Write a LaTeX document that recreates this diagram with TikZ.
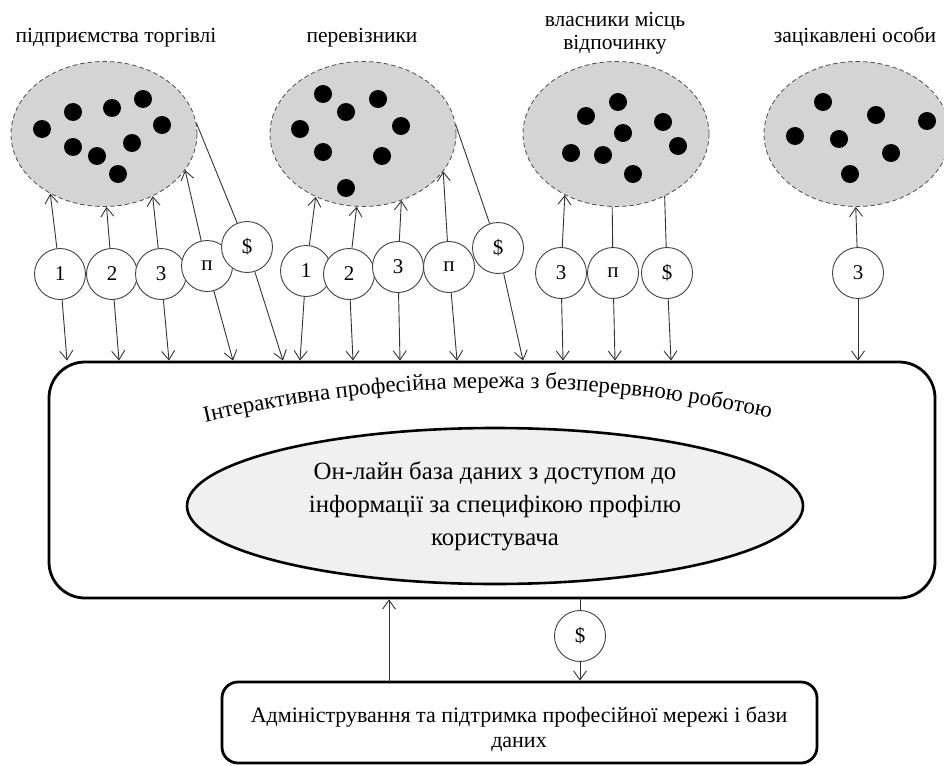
\documentclass[tikz,border=0pt]{standalone}
\usepackage{fontspec}
\setmainfont{Liberation Serif}
\usetikzlibrary{shapes.geometric,arrows.meta,decorations.text}
\begin{document}
\begin{tikzpicture}[x=1pt,y=-1pt,
  grp/.style={ellipse, draw=black!70, fill=black!17, line width=0.8pt,
    dash pattern=on 4.5pt off 3pt, minimum width=186pt, minimum height=145pt, inner sep=0pt},
  tok/.style={circle, draw=black!75, fill=white, line width=0.9pt,
    minimum size=51pt, inner sep=0pt, font=\fontsize{21}{21}\selectfont},
  arr/.style={draw=black!80, line width=0.9pt, -{Straight Barb[length=9pt,width=13pt]}},
  ln/.style={draw=black!80, line width=0.9pt},
  lbl/.style={align=center, font=\fontsize{21.5}{23}\selectfont, inner sep=0pt},
  frame/.style={draw, line width=2.8pt, inner sep=0pt}
]
\useasboundingbox (0,0) rectangle (944,765);

% group titles
\node[lbl, anchor=base] (t1) at (116,43) {підприємства торгівлі};
\node[lbl, anchor=base] (t2) at (362,43) {перевізники};
\node[lbl] (t3) at (615,33) {власники місць\\відпочинку};
\node[lbl, anchor=base] (t4) at (855,43) {зацікавлені особи};

% participant groups
\node[grp] (e1) at (104,134) {};
\node[grp] (e2) at (363,134) {};
\node[grp] (e3) at (616,134) {};
\node[grp] (e4) at (857,134) {};

\foreach \x/\y in {42/129,73/112,112/108,143/99,162/125,73/147,97/156,132/143,118/174,
                   323/94,346/112,378/99,300/129,401/126,323/152,382/156,346/188,
                   618/102,586/116,663/122,623/133,678/146,571/153,603/155,633/174,
                   823/102,876/115,927/121,795/136,839/139,891/153,850/174}
  \fill (\x,\y) circle[radius=9pt];

% network and database
\node[frame, rounded corners=36pt, minimum width=886pt, minimum height=236pt] (net) at (492,480) {};
\path[decorate, decoration={text along path, text align=center,
  text={|\fontsize{22.8}{23}\selectfont|Інтерактивна професійна мережа з безперервною роботою}}]
  (165,432) .. controls (385,374) and (600,374) .. (810,428);
\node[ellipse, draw, line width=2.6pt, fill=black!6, minimum width=616pt, minimum height=156pt,
  inner sep=0pt, align=center, font=\fontsize{24.8}{33}\selectfont] (db) at (495,506)
  {Он-лайн база даних з доступом до\\інформації за специфікою профілю\\користувача};

% administration
\node[frame, rounded corners=16pt, minimum width=595pt, minimum height=81pt] (adm) at (519.5,722.5) {};
\node[align=center, font=\fontsize{22}{25}\selectfont, inner sep=0pt] (admtext) at (519,729)
  {Адміністрування та підтримка професійної мережі і бази\\даних};

% exchange tokens
\node[tok] (a1) at (60,274) {1};
\node[tok] (a2) at (112,274) {2};
\node[tok] (a3) at (161,274) {3};
\node[tok] (a4) at (207,266) {п};
\node[tok] (a5) at (247,247) {\$};

\node[tok] (b1) at (306,271) {1};
\node[tok] (b2) at (349,274) {2};
\node[tok] (b3) at (398,267) {3};
\node[tok] (b4) at (449,267) {п};
\node[tok] (b5) at (498,248) {\$};

\node[tok] (c1) at (561,273) {3};
\node[tok] (c2) at (613,273) {п};
\node[tok] (c3) at (667,273) {\$};

\node[tok] (d1) at (858,273) {3};

\node[tok] (pay) at (580,636) {\$};

% flows between groups and tokens
\draw[arr] (a1) -- (e1.228);
\draw[arr] (a2) -- (e1.272);
\draw[arr] (a3) -- (e1.308);
\draw[arr] (a4) -- (e1.336);
\draw[ln]  (e1.7) -- (a5);

\draw[arr] (b1) -- (e2.233);
\draw[arr] (b2) -- (e2.265);
\draw[arr] (b3) -- (e2.300);
\draw[arr] (b4) -- (e2.335);
\draw[ln]  (e2.6) -- (b5);

\draw[arr] (c1) -- (e3.230);
\draw[ln]  (e3.267) -- (c2);
\draw[ln]  (e3.308) -- (c3);

\draw[arr] (d1) -- (e4.269);

% flows from tokens into the network
\draw[arr] (a1) -- (67,0 |- net.north);
\draw[arr] (a2) -- (119,0 |- net.north);
\draw[arr] (a3) -- (169,0 |- net.north);
\draw[arr] (a4) -- (233,0 |- net.north);
\draw[arr] (a5) -- (283,0 |- net.north);

\draw[arr] (b1) -- (300,0 |- net.north);
\draw[arr] (b2) -- (353,0 |- net.north);
\draw[arr] (b3) -- (400,0 |- net.north);
\draw[arr] (b4) -- (457,0 |- net.north);
\draw[arr] (b5) -- (523,0 |- net.north);

\draw[arr] (c1) -- (563,0 |- net.north);
\draw[arr] (c2) -- (615,0 |- net.north);
\draw[arr] (c3) -- (671,0 |- net.north);

\draw[arr] (d1) -- (858,0 |- net.north);

% network and administration
\draw[arr] (389,0 |- adm.north) -- (389,0 |- net.south);
\draw[ln]  (net.south -| pay) -- (pay);
\draw[arr] (pay) -- (pay |- adm.north);
\end{tikzpicture}
\end{document}
